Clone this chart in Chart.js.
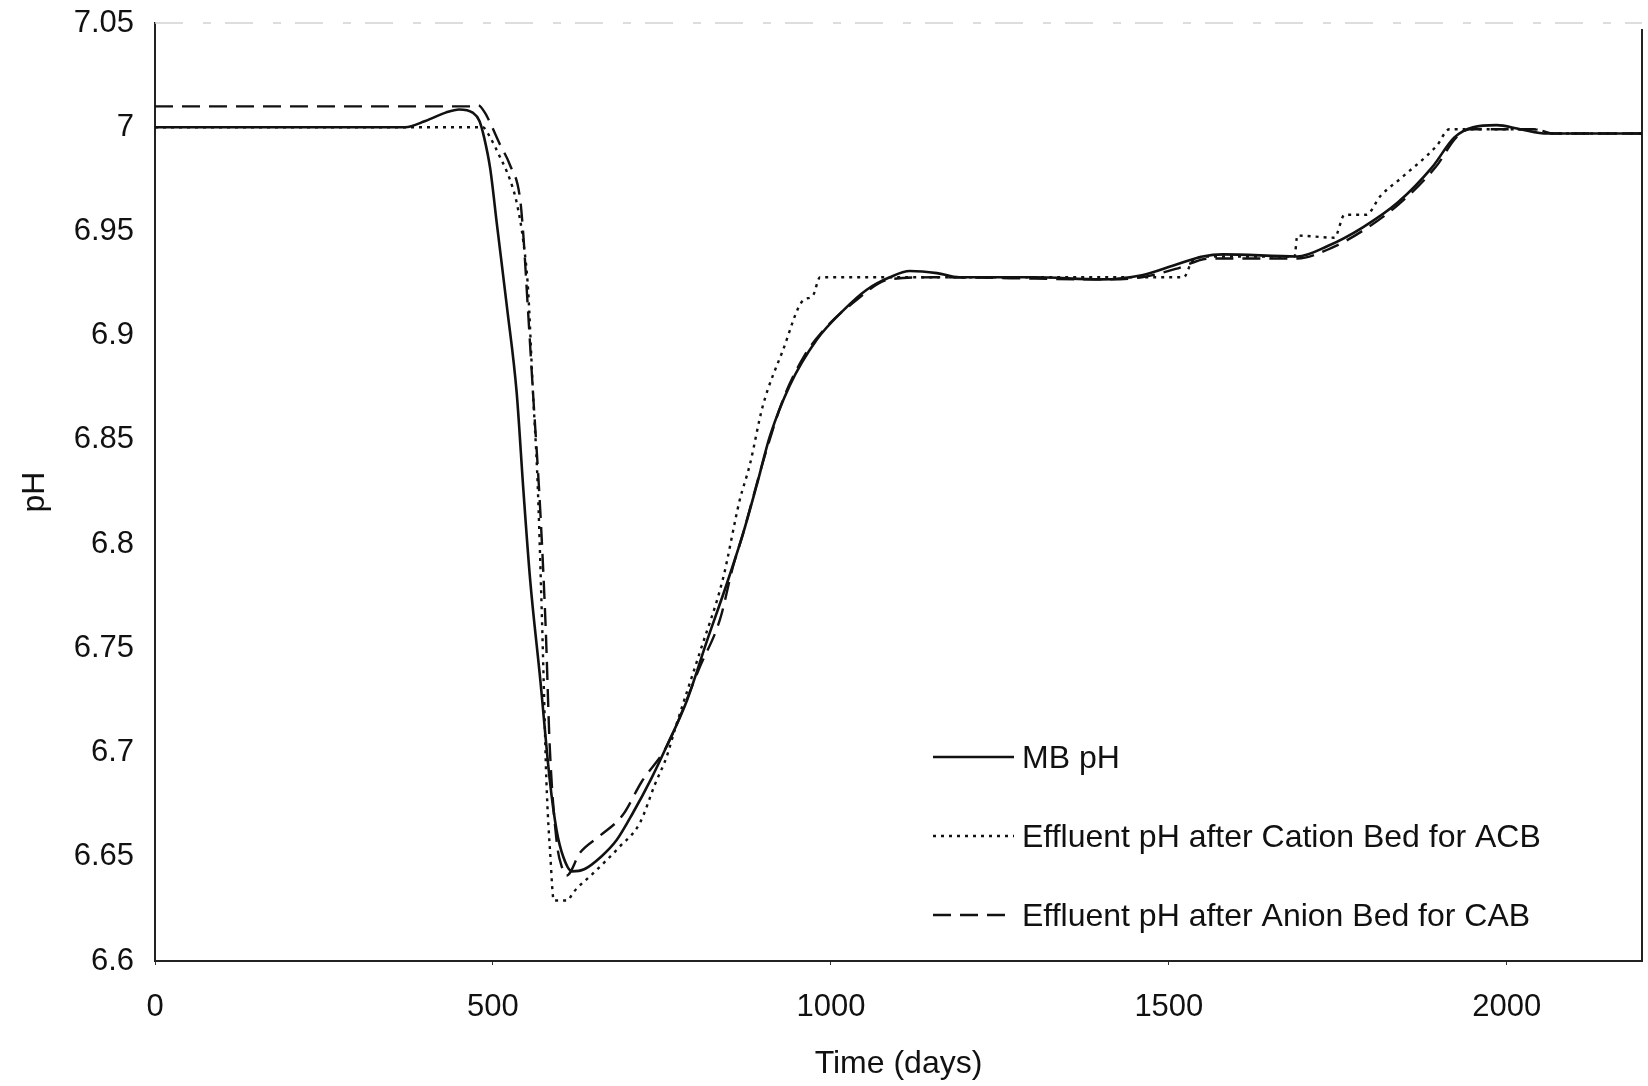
<!DOCTYPE html>
<html lang="en">
<head>
  <meta charset="UTF-8" />
  <title>pH vs time</title>
  <script src="https://cdn.jsdelivr.net/npm/chart.js"></script>
  <style>
    body { margin: 0; background: #fff; }
    #wrap { width: 1648px; height: 1086px; }
  </style>
</head>
<body>
  <div id="wrap"><canvas id="phChart" width="1648" height="1086"></canvas></div>
  <script>
    // mixed bed pH
    const mbDays = [0, 370, 400, 430, 450, 470, 480, 487, 496, 506, 521, 535, 545, 555, 570, 584, 594, 604, 617, 635, 660, 683, 707, 735, 757, 787, 816, 846, 870, 890, 910, 939, 979, 1018, 1053, 1087, 1117, 1157, 1190, 1300, 1400, 1460, 1510, 1550, 1580, 1690, 1735, 1787, 1839, 1890, 1922, 1950, 1985, 2020, 2060, 2200];
    const mbPH = [7.000, 7.000, 7.003, 7.007, 7.0085, 7.007, 7.003, 6.995, 6.980, 6.953, 6.913, 6.873, 6.826, 6.783, 6.735, 6.687, 6.663, 6.650, 6.643, 6.644, 6.650, 6.658, 6.671, 6.688, 6.703, 6.725, 6.753, 6.781, 6.805, 6.828, 6.852, 6.876, 6.898, 6.912, 6.922, 6.928, 6.931, 6.930, 6.928, 6.928, 6.927, 6.929, 6.934, 6.938, 6.939, 6.938, 6.943, 6.952, 6.964, 6.981, 6.995, 7.000, 7.001, 6.999, 6.997, 6.997];

    // cation bed effluent, ACB arrangement
    const acbDays = [0, 485, 496, 510, 525, 535, 545, 552, 559, 566, 572, 575, 579, 585, 590, 610, 619, 648, 688, 717, 740, 757, 770, 806, 840, 865, 880, 899, 929, 959, 973, 984, 1100, 1522, 1535, 1560, 1686, 1690, 1745, 1760, 1792, 1813, 1845, 1896, 1915, 2040, 2070, 2200];
    const acbPH = [7.000, 7.000, 6.995, 6.986, 6.975, 6.964, 6.945, 6.922, 6.874, 6.830, 6.770, 6.735, 6.687, 6.650, 6.629, 6.629, 6.633, 6.642, 6.655, 6.666, 6.685, 6.698, 6.712, 6.748, 6.783, 6.821, 6.838, 6.866, 6.893, 6.917, 6.919, 6.928, 6.928, 6.928, 6.936, 6.938, 6.938, 6.948, 6.947, 6.958, 6.958, 6.967, 6.976, 6.991, 6.999, 6.999, 6.997, 6.997];

    // anion bed effluent, CAB arrangement
    const cabDays = [0, 466, 478, 488, 496, 510, 525, 540, 545, 550, 559, 570, 578, 584, 594, 602, 609, 629, 658, 692, 720, 757, 806, 836, 855, 870, 900, 930, 960, 990, 1030, 1087, 1150, 1400, 1460, 1510, 1560, 1690, 1740, 1790, 1840, 1895, 1925, 1945, 2040, 2070, 2200];
    const cabPH = [7.010, 7.010, 7.0105, 7.007, 7.002, 6.992, 6.982, 6.966, 6.948, 6.922, 6.874, 6.816, 6.760, 6.703, 6.658, 6.645, 6.641, 6.652, 6.660, 6.670, 6.686, 6.703, 6.741, 6.764, 6.789, 6.805, 6.840, 6.870, 6.890, 6.903, 6.915, 6.927, 6.928, 6.927, 6.928, 6.932, 6.937, 6.937, 6.942, 6.951, 6.963, 6.981, 6.995, 6.999, 6.999, 6.997, 6.997];

    const seriesLabels = ['MB pH', 'Effluent pH after Cation Bed for ACB', 'Effluent pH after Anion Bed for CAB'];
    const xTicks = [0, 500, 1000, 1500, 2000];
    const yTicks = [6.6, 6.65, 6.7, 6.75, 6.8, 6.85, 6.9, 6.95, 7, 7.05];

    const FAMILY = "'Liberation Sans', Arial, sans-serif";
    const TICK_FONT = { family: FAMILY, size: 31 };
    const TEXT_FONT = { family: FAMILY, size: 32 };
    const INK = '#111';

    const toPoints = (xs, ys) => xs.map((x, i) => ({ x: x, y: ys[i] }));

    // legend drawn inside the plot, lower right
    const insideLegend = {
      id: 'insideLegend',
      afterDatasetsDraw(chart, args, opts) {
        const { ctx, chartArea } = chart;
        ctx.save();
        ctx.font = `${TEXT_FONT.size}px ${FAMILY}`;
        ctx.textBaseline = 'middle';
        ctx.fillStyle = INK;
        chart.data.datasets.forEach((ds, i) => {
          const x = chartArea.left + opts.left;
          const y = chartArea.top + opts.top + i * opts.rowGap;
          ctx.beginPath();
          ctx.setLineDash(ds.borderDash || []);
          ctx.lineWidth = ds.borderWidth;
          ctx.strokeStyle = ds.borderColor;
          ctx.moveTo(x, y);
          ctx.lineTo(x + opts.sample, y);
          ctx.stroke();
          ctx.setLineDash([]);
          ctx.fillText(ds.label, x + opts.sample + opts.gap, y + 2);
        });
        ctx.restore();
      }
    };

    // right border and faint top edge of the plot frame
    const frame = {
      id: 'frame',
      beforeDatasetsDraw(chart) {
        const { ctx, chartArea: a } = chart;
        ctx.save();
        ctx.strokeStyle = '#d2d2d2';
        ctx.lineWidth = 1.5;
        ctx.setLineDash([28, 20, 8, 14]);
        ctx.beginPath();
        ctx.moveTo(a.left, a.top);
        ctx.lineTo(a.right, a.top);
        ctx.stroke();
        ctx.setLineDash([]);
        ctx.strokeStyle = '#222';
        ctx.lineWidth = 2;
        ctx.beginPath();
        ctx.moveTo(a.right, a.top + 6);
        ctx.lineTo(a.right, a.bottom);
        ctx.stroke();
        ctx.restore();
      }
    };

    const lineStyle = {
      borderColor: INK,
      pointRadius: 0,
      fill: false,
      cubicInterpolationMode: 'monotone'
    };

    new Chart(document.getElementById('phChart').getContext('2d'), {
      type: 'line',
      data: {
        datasets: [
          Object.assign({ label: seriesLabels[0], data: toPoints(mbDays, mbPH), borderWidth: 2.6 }, lineStyle),
          Object.assign({ label: seriesLabels[1], data: toPoints(acbDays, acbPH), borderWidth: 2.4, borderDash: [3, 5] }, lineStyle),
          Object.assign({ label: seriesLabels[2], data: toPoints(cabDays, cabPH), borderWidth: 2.4, borderDash: [18, 9] }, lineStyle)
        ]
      },
      options: {
        responsive: false,
        animation: false,
        layout: { padding: { top: 23, right: 6, left: 0, bottom: 0 } },
        plugins: {
          legend: { display: false },
          tooltip: { enabled: false },
          insideLegend: { left: 778, top: 734, rowGap: 79, sample: 81, gap: 8 }
        },
        scales: {
          x: {
            type: 'linear',
            min: 0,
            max: 2200,
            afterBuildTicks: s => { s.ticks = xTicks.map(v => ({ value: v })); },
            afterFit: s => { s.height = 125; s.paddingLeft = 0; s.paddingRight = 0; },
            grid: { drawOnChartArea: false, drawTicks: true, tickLength: 4, color: '#333' },
            border: { color: '#222', width: 2 },
            ticks: { padding: 24, maxRotation: 0, autoSkip: false, color: INK, font: TICK_FONT, callback: v => String(v) },
            title: { display: true, text: 'Time (days)', color: INK, font: TEXT_FONT, padding: { top: 0, bottom: 3 } }
          },
          y: {
            type: 'linear',
            min: 6.6,
            max: 7.05,
            afterBuildTicks: s => { s.ticks = yTicks.map(v => ({ value: v })); },
            afterFit: s => { s.width = 155; s.paddingTop = 0; s.paddingBottom = 0; },
            grid: { display: false, drawTicks: false },
            border: { color: '#222', width: 2 },
            ticks: { padding: 21, color: INK, font: TICK_FONT, callback: v => String(v) },
            title: { display: true, text: 'pH', color: INK, font: TEXT_FONT, padding: { top: 16, bottom: 0 } }
          }
        }
      },
      plugins: [frame, insideLegend]
    });
  </script>
</body>
</html>
